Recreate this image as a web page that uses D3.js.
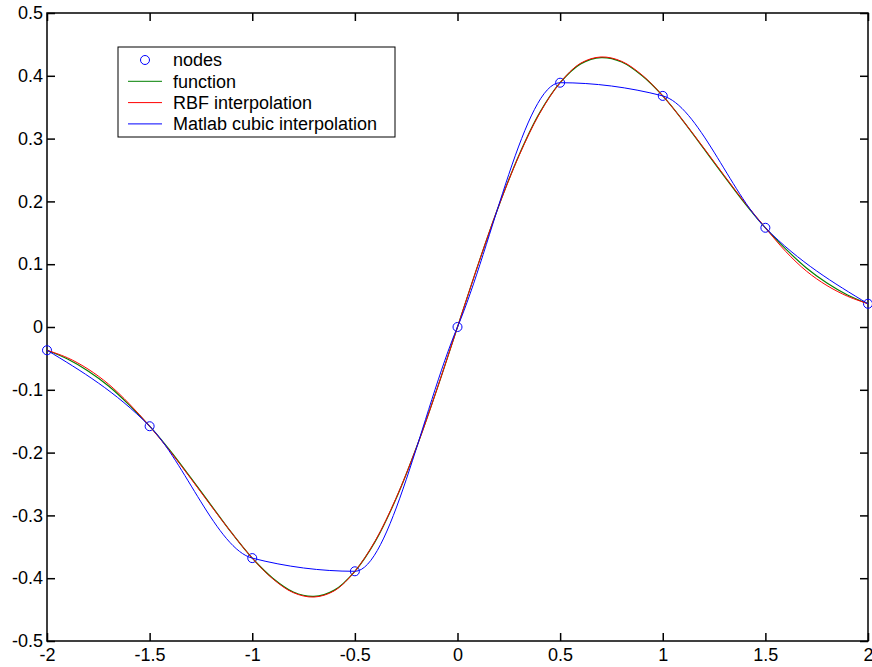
<!DOCTYPE html>
<html>
<head>
<meta charset="utf-8">
<script src="https://cdn.jsdelivr.net/npm/d3@7"></script>
<style>
  body { margin: 0; background: #fff; }
  svg { display: block; font-family: Arial, "Liberation Sans", sans-serif; }
  .tick text { font-size: 18px; fill: #000; }
  .legend text { font-size: 18px; fill: #000; }
</style>
</head>
<body>
<svg width="872" height="667"></svg>
<script>
const svg = d3.select("svg")

// interpolation nodes
const nodeX = [-2, -1.5, -1, -0.5, 0, 0.5, 1, 1.5, 2]
const nodeY = [-0.037, -0.158, -0.368, -0.389, 0, 0.389, 0.368, 0.158, 0.037]

// sample points for the smooth curves
const sampleX = [-2, -1.9, -1.8, -1.7, -1.6, -1.5, -1.4, -1.3, -1.2, -1.1, -1, -0.9, -0.8, -0.7, -0.6, -0.5, -0.4, -0.3, -0.2, -0.1,
  0, 0.1, 0.2, 0.3, 0.4, 0.5, 0.6, 0.7, 0.8, 0.9, 1, 1.1, 1.2, 1.3, 1.4, 1.5, 1.6, 1.7, 1.8, 1.9, 2]
const funcY = [-0.037, -0.051, -0.070, -0.094, -0.124, -0.158, -0.197, -0.240, -0.284, -0.328, -0.368, -0.400, -0.422, -0.429, -0.419, -0.389, -0.341, -0.274, -0.192, -0.099,
  0, 0.099, 0.192, 0.274, 0.341, 0.389, 0.419, 0.429, 0.422, 0.400, 0.368, 0.328, 0.284, 0.240, 0.197, 0.158, 0.124, 0.094, 0.070, 0.051, 0.037]
const rbfY = [-0.037, -0.049, -0.067, -0.091, -0.122, -0.158, -0.198, -0.241, -0.285, -0.328, -0.368, -0.401, -0.423, -0.430, -0.420, -0.389, -0.340, -0.273, -0.192, -0.099,
  0, 0.099, 0.192, 0.273, 0.340, 0.389, 0.420, 0.430, 0.423, 0.401, 0.368, 0.328, 0.285, 0.241, 0.198, 0.158, 0.120, 0.089, 0.066, 0.049, 0.037]

const xTicks = [-2, -1.5, -1, -0.5, 0, 0.5, 1, 1.5, 2]
const yTicks = [-0.5, -0.4, -0.3, -0.2, -0.1, 0, 0.1, 0.2, 0.3, 0.4, 0.5]

const legendLabels = ["nodes", "function", "RBF interpolation", "Matlab cubic interpolation"]
const legendColors = ["#0000ff", "#008000", "#ff0000", "#0000ff"]

const plotLeft = 47, plotRight = 868, plotTop = 13, plotBottom = 641

const x = d3.scaleLinear().domain([-2, 2]).range([plotLeft, plotRight])
const y = d3.scaleLinear().domain([-0.5, 0.5]).range([plotBottom, plotTop])

const fmt = d => String(d)

// axes, ticks pointing inward
svg.append("g")
  .attr("transform", `translate(0,${plotBottom})`)
  .call(d3.axisBottom(x).tickValues(xTicks).tickFormat(fmt).tickSizeInner(-8).tickSizeOuter(0).tickPadding(7))
svg.append("g")
  .attr("transform", `translate(0,${plotTop})`)
  .call(d3.axisTop(x).tickValues(xTicks).tickFormat("").tickSizeInner(-8).tickSizeOuter(0))
svg.append("g")
  .attr("transform", `translate(${plotLeft},0)`)
  .call(d3.axisLeft(y).tickValues(yTicks).tickFormat(fmt).tickSizeInner(-8).tickSizeOuter(0).tickPadding(4))
svg.append("g")
  .attr("transform", `translate(${plotRight},0)`)
  .call(d3.axisRight(y).tickValues(yTicks).tickFormat("").tickSizeInner(-8).tickSizeOuter(0))

svg.selectAll(".domain").remove()
svg.selectAll(".tick line").attr("stroke", "#000").attr("stroke-width", 1.5)

svg.append("rect")
  .attr("x", plotLeft)
  .attr("y", plotTop)
  .attr("width", plotRight - plotLeft)
  .attr("height", plotBottom - plotTop)
  .attr("fill", "none")
  .attr("stroke", "#000")
  .attr("stroke-width", 1.5)

// nodes
svg.append("g")
  .selectAll("circle")
  .data(nodeX)
  .enter().append("circle")
  .attr("cx", d => x(d))
  .attr("cy", (d,i) => y(nodeY[i]))
  .attr("r", 4.5)
  .attr("fill", "none")
  .attr("stroke", "#0000ff")
  .attr("stroke-width", 1)

const smooth = d3.line()
  .x(d => x(d[0]))
  .y(d => y(d[1]))
  .curve(d3.curveCatmullRom)

svg.append("path")
  .datum(sampleX.map((d,i) => [d, funcY[i]]))
  .attr("d", smooth)
  .attr("fill", "none")
  .attr("stroke", "#008000")
  .attr("stroke-width", 1.2)

svg.append("path")
  .datum(sampleX.map((d,i) => [d, rbfY[i]]))
  .attr("d", smooth)
  .attr("fill", "none")
  .attr("stroke", "#ff0000")
  .attr("stroke-width", 1)

// piecewise cubic hermite through the nodes
const cubic = d3.line()
  .x(d => x(d[0]))
  .y(d => y(d[1]))
  .curve(d3.curveMonotoneX)

svg.append("path")
  .datum(nodeX.map((d,i) => [d, nodeY[i]]))
  .attr("d", cubic)
  .attr("fill", "none")
  .attr("stroke", "#0000ff")
  .attr("stroke-width", 1)

// legend
const legend = svg.append("g").attr("class", "legend")

legend.append("rect")
  .attr("x", 118)
  .attr("y", 47)
  .attr("width", 277)
  .attr("height", 90)
  .attr("fill", "#fff")
  .attr("stroke", "#000")
  .attr("stroke-width", 1)

const items = legend.selectAll("g.item")
  .data(legendLabels)
  .enter().append("g")
  .attr("class", "item")
  .attr("transform", (d,i) => `translate(0, ${60 + i * 21.3})`)

items.append("text")
  .attr("x", 173)
  .attr("y", 0)
  .attr("dy", "0.35em")
  .text(d => d)

items.filter((d,i) => i == 0)
  .append("circle")
  .attr("cx", 145)
  .attr("cy", 0)
  .attr("r", 4.5)
  .attr("fill", "none")
  .attr("stroke", legendColors[0])

items.filter((d,i) => i > 0)
  .append("line")
  .attr("x1", 128)
  .attr("x2", 162)
  .attr("y1", 0)
  .attr("y2", 0)
  .attr("stroke", (d,i) => legendColors[i + 1])
  .attr("stroke-width", 1)
</script>
</body>
</html>
